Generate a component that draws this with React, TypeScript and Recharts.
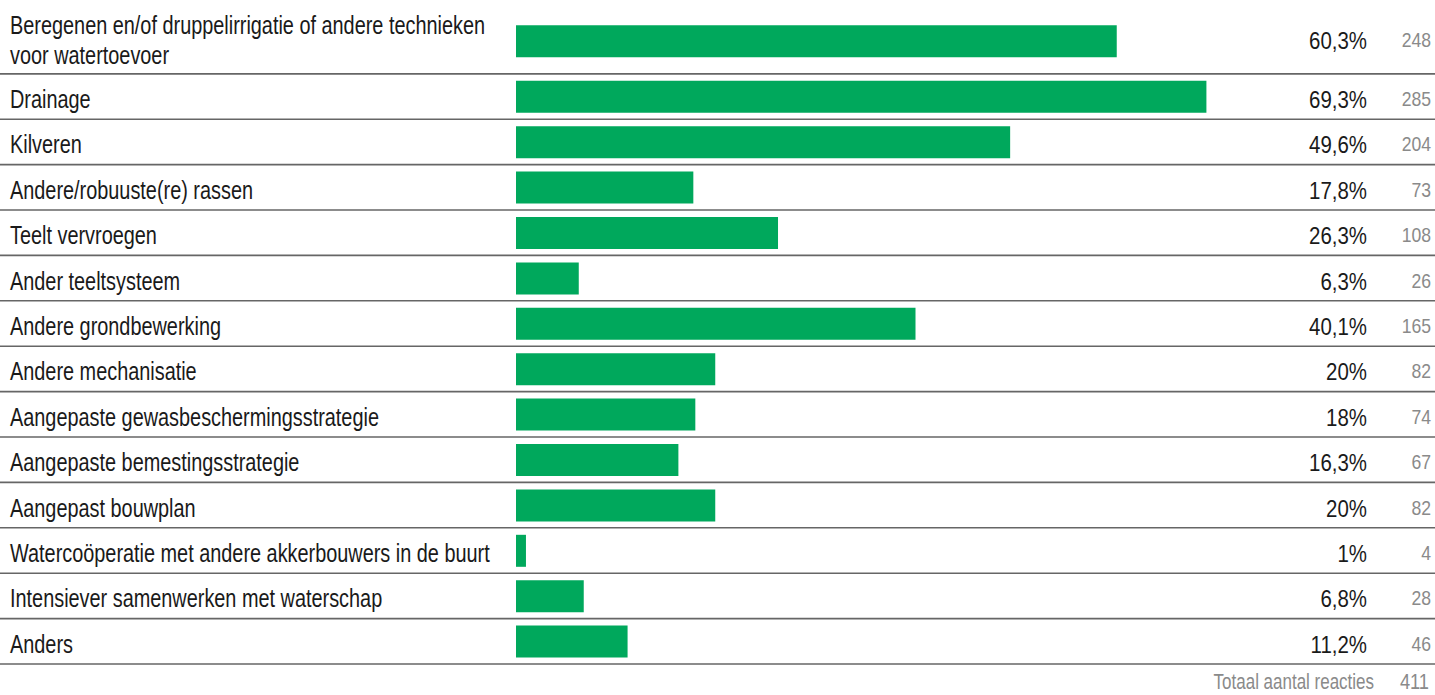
import React from 'react';
import { BarChart, Bar, XAxis, YAxis, ReferenceLine } from 'recharts';

const categories = [
  'Beregenen en/of druppelirrigatie of andere technieken\nvoor watertoevoer',
  'Drainage',
  'Kilveren',
  'Andere/robuuste(re) rassen',
  'Teelt vervroegen',
  'Ander teeltsysteem',
  'Andere grondbewerking',
  'Andere mechanisatie',
  'Aangepaste gewasbeschermingsstrategie',
  'Aangepaste bemestingsstrategie',
  'Aangepast bouwplan',
  'Watercoöperatie met andere akkerbouwers in de buurt',
  'Intensiever samenwerken met waterschap',
  'Anders',
];
const percentages = [60.3, 69.3, 49.6, 17.8, 26.3, 6.3, 40.1, 20, 18, 16.3, 20, 1, 6.8, 11.2];
const counts = [248, 285, 204, 73, 108, 26, 165, 82, 74, 67, 82, 4, 28, 46];
const totalLabel = 'Totaal aantal reacties';
const totalCount = 411;

// no condensed font installed: squeeze Liberation Sans horizontally
const FONT = "'Liberation Sans', Arial, sans-serif";
const GREEN = '#00A85C';

// rows with two text lines get a taller slot
const rows: { name: string; pct: number; count: number; slot: number; bottom: number; multi: boolean }[] = [];
let pos = 0;
categories.forEach((name, i) => {
  const multi = name.includes('\n');
  const half = multi ? 0.725 : 0.5;
  rows.push({ name, pct: percentages[i], count: counts[i], slot: pos + half, bottom: pos + 2 * half, multi });
  pos += 2 * half;
});
const slots = rows.map((r) => r.slot);

const fmtPct = (v: number) => String(v).replace('.', ',') + '%';

const Narrow = ({ x, y, anchor = 'start', size, color, sx, children }: any) => (
  <g transform={`translate(${x},${y}) scale(${sx},1)`}>
    <text x={0} y={0} textAnchor={anchor} fontSize={size} fill={color} fontFamily={FONT}>
      {children}
    </text>
  </g>
);

const LeftTick = (props: any) => {
  const { y, index } = props;
  const r = rows[index];
  const lines = r.name.split('\n');
  const base = y + (r.multi ? -3.5 : 0) + 11.5;
  return (
    <g>
      {lines.map((l, k) => (
        <Narrow key={k} x={10} y={base + (k - (lines.length - 1) / 2) * 30} size={26} sx={0.765} color="#1a1a1a">
          {l}
        </Narrow>
      ))}
    </g>
  );
};

const RightTick = (props: any) => {
  const { y, index } = props;
  const r = rows[index];
  const c = y + (r.multi ? -3.5 : 0);
  return (
    <g>
      <Narrow x={1367} y={c + 11.5} anchor="end" size={24.5} sx={0.835} color="#1a1a1a">
        {fmtPct(r.pct)}
      </Narrow>
      <Narrow x={1431} y={c + 9.5} anchor="end" size={20} sx={0.88} color="#8a8a8a">
        {r.count}
      </Narrow>
    </g>
  );
};

export default function App() {
  return (
    <div style={{ position: 'absolute', left: 0, top: 0, width: 1435, height: 695, background: '#fff' }}>
      <BarChart
        width={1435}
        height={695}
        layout="vertical"
        data={rows}
        margin={{ top: 8, right: 0, bottom: 31, left: 0 }}
      >
        <XAxis type="number" domain={[0, 80.3]} hide />
        <YAxis
          yAxisId="left"
          type="number"
          dataKey="slot"
          domain={[0, pos]}
          ticks={slots}
          interval={0}
          width={516}
          axisLine={false}
          tickLine={false}
          tick={<LeftTick />}
        />
        <YAxis
          yAxisId="right"
          orientation="right"
          type="number"
          dataKey="slot"
          domain={[0, pos]}
          ticks={slots}
          interval={0}
          width={119}
          axisLine={false}
          tickLine={false}
          tick={<RightTick />}
        />
        {rows.map((r) => (
          <ReferenceLine
            key={r.name}
            yAxisId="left"
            ifOverflow="visible"
            segment={[
              { x: -60, y: r.bottom },
              { x: 100, y: r.bottom },
            ]}
            stroke="#666"
            strokeWidth={1.6}
          />
        ))}
        <Bar yAxisId="left" dataKey="pct" fill={GREEN} barSize={32} isAnimationActive={false} />
        <Narrow x={1374} y={689} anchor="end" size={21.5} sx={0.79} color="#8a8a8a">
          {totalLabel}
        </Narrow>
        <Narrow x={1429} y={689} anchor="end" size={21.5} sx={0.85} color="#8a8a8a">
          {totalCount}
        </Narrow>
      </BarChart>
    </div>
  );
}
